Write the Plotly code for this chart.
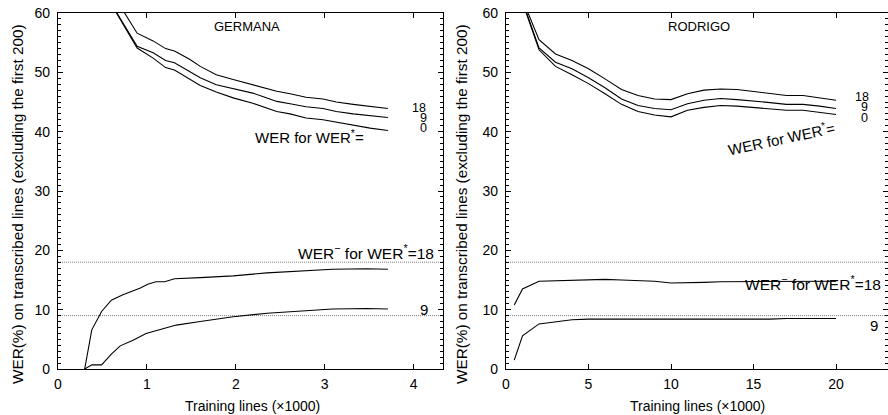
import plotly.graph_objects as go

# ---------------- data ----------------
# GERMANA (x in thousands of training lines)
germ_up_x = [0.5, 0.89, 1.07, 1.21, 1.31, 1.48, 1.6, 1.78, 1.97, 2.19, 2.31, 2.46, 2.61, 2.79, 2.98, 3.13, 3.32, 3.51, 3.71]
germ_wer18 = [66, 56.6, 55.3, 54.0, 53.6, 52.2, 51.0, 49.6, 48.8, 47.9, 47.4, 46.8, 46.4, 45.8, 45.5, 45.0, 44.6, 44.2, 43.9]
germ_wer9 = [64, 54.4, 53.3, 52.0, 51.6, 50.2, 49.1, 47.9, 47.2, 46.5, 45.9, 45.1, 44.7, 44.2, 43.9, 43.4, 43.0, 42.7, 42.4]
germ_wer0 = [64, 54.1, 52.4, 50.8, 50.4, 48.9, 47.8, 46.7, 45.7, 44.8, 44.2, 43.4, 43.0, 42.3, 42.0, 41.6, 41.1, 40.6, 40.2]

germ_lo18_x = [0.3, 0.38, 0.49, 0.6, 0.73, 0.85, 0.92, 1.01, 1.1, 1.2, 1.31, 1.6, 1.97, 2.35, 2.72, 3.09, 3.47, 3.71]
germ_lo18 = [0, 6.6, 9.7, 11.6, 12.5, 13.2, 13.6, 14.3, 14.7, 14.7, 15.2, 15.4, 15.7, 16.2, 16.5, 16.8, 16.9, 16.8]
germ_lo9_x = [0.3, 0.38, 0.49, 0.6, 0.7, 0.85, 0.99, 1.15, 1.33, 1.6, 1.97, 2.35, 2.72, 3.09, 3.47, 3.71]
germ_lo9 = [0, 0.7, 0.7, 2.5, 3.9, 4.9, 6.0, 6.7, 7.4, 8.0, 8.8, 9.4, 9.8, 10.1, 10.2, 10.1]

# RODRIGO
rod_x = [0.5, 1, 2, 3, 4, 5, 6, 7, 8, 9, 10, 11, 12, 13, 14, 15, 16, 17, 18, 19, 20]
rod_wer18 = [70, 62.3, 55.5, 53.1, 52.0, 50.6, 48.9, 47.1, 46.1, 45.5, 45.4, 46.4, 47.0, 47.2, 47.1, 46.8, 46.5, 46.1, 46.1, 45.7, 45.3]
rod_wer9 = [69, 62.0, 54.1, 51.7, 50.6, 49.1, 47.4, 45.5, 44.4, 43.9, 43.7, 44.7, 45.3, 45.6, 45.4, 45.2, 44.9, 44.6, 44.6, 44.3, 43.9]
rod_wer0 = [68.5, 61.8, 53.8, 51.0, 49.6, 48.1, 46.4, 44.6, 43.4, 42.8, 42.5, 43.6, 44.1, 44.4, 44.3, 44.1, 43.9, 43.6, 43.6, 43.3, 42.9]
rod_lo18 = [10.8, 13.5, 14.8, 14.9, 15.0, 15.1, 15.1, 15.0, 14.9, 14.8, 14.5, 14.5, 14.6, 14.7, 14.7, 14.7, 14.7, 14.8, 14.8, 14.8, 14.8]
rod_lo9 = [1.5, 5.6, 7.6, 8.0, 8.3, 8.4, 8.4, 8.4, 8.4, 8.4, 8.3, 8.3, 8.3, 8.4, 8.4, 8.4, 8.4, 8.5, 8.5, 8.5, 8.5]

ref_levels = [18, 9]
panel_names = ["GERMANA", "RODRIGO"]
x_ticks_left = [0, 1, 2, 3, 4]
x_ticks_right = [0, 5, 10, 15, 20]
y_ticks = [0, 10, 20, 30, 40, 50, 60]

# ---------------- figure ----------------
FONT = "Liberation Sans, Arial, Helvetica, sans-serif"
W, H = 888, 415
line = dict(color="black", width=1.1)

fig = go.Figure()
for xs, ys in [(germ_up_x, germ_wer18), (germ_up_x, germ_wer9), (germ_up_x, germ_wer0),
               (germ_lo18_x, germ_lo18), (germ_lo9_x, germ_lo9)]:
    fig.add_trace(go.Scatter(x=xs, y=ys, mode="lines", line=line, xaxis="x", yaxis="y",
                             showlegend=False, hoverinfo="skip"))
for ys in [rod_wer18, rod_wer9, rod_wer0, rod_lo18, rod_lo9]:
    fig.add_trace(go.Scatter(x=rod_x, y=ys, mode="lines", line=line, xaxis="x2", yaxis="y2",
                             showlegend=False, hoverinfo="skip"))

ydom = [46 / H, 402 / H]
common_ax = dict(showline=True, linecolor="black", linewidth=1.2, mirror="ticks",
                 ticks="inside", ticklen=5, tickcolor="black", tickwidth=1,
                 showgrid=False, zeroline=False, automargin=False,
                 tickfont=dict(family=FONT, size=14, color="black"))

yax = dict(common_ax, range=[0, 60], tickvals=y_ticks, domain=ydom,
           minor=dict(ticks="inside", ticklen=3, tickcolor="black", dtick=1, tick0=0, showgrid=False),
           ticklabelstandoff=4)

fig.update_layout(
    width=W, height=H, autosize=False,
    margin=dict(l=0, r=0, t=0, b=0, pad=0, autoexpand=False),
    paper_bgcolor="white", plot_bgcolor="white",
    font=dict(family=FONT, color="black"),
    xaxis=dict(common_ax, range=[0, 4.33], tickvals=x_ticks_left, domain=[58 / W, 443 / W],
               anchor="y", ticklabelstandoff=2),
    yaxis=dict(yax, anchor="x"),
    xaxis2=dict(common_ax, range=[0, 23.15], tickvals=x_ticks_right, domain=[506 / W, 1.0],
                anchor="y2", ticklabelstandoff=2),
    yaxis2=dict(yax, anchor="x2"),
)

# dotted reference levels
for xr, yr in [("x", "y"), ("x2", "y2")]:
    for lv in ref_levels:
        fig.add_shape(type="line", xref=f"{xr} domain", yref=yr, x0=0, x1=1, y0=lv, y1=lv,
                      line=dict(color="#808080", width=1, dash="1px,1px"), layer="below")

def ann(text, x, y, xref, yref, size=14, xanchor="center", angle=0):
    fig.add_annotation(text=text, x=x, y=y, xref=xref, yref=yref, showarrow=False,
                       xanchor=xanchor, yanchor="middle", textangle=angle,
                       font=dict(family=FONT, size=size, color="black"))

# left panel texts
ann(panel_names[0], 2.13, 57.7, "x", "y", size=13)
ann("18", 4.06, 44.0, "x", "y", size=12.5)
ann("9", 4.11, 42.3, "x", "y", size=12.5)
ann("0", 4.11, 40.6, "x", "y", size=12.5)
ann("WER for WER<sup>*</sup>=", 2.83, 39.2, "x", "y", size=15)
ann("WER<sup>−</sup> for WER<sup>*</sup>=18", 4.25, 19.8, "x", "y", size=15.5, xanchor="right")
ann("9", 4.12, 10.0, "x", "y", size=15)

# right panel texts
ann(panel_names[1], 11.7, 57.7, "x2", "y2", size=13)
ann("18", 21.6, 45.9, "x2", "y2", size=12.5)
ann("9", 21.75, 44.1, "x2", "y2", size=12.5)
ann("0", 21.75, 42.3, "x2", "y2", size=12.5)
ann("WER for WER<sup>*</sup>=", 16.7, 39.0, "x2", "y2", size=15, angle=-12)
ann("WER<sup>−</sup> for WER<sup>*</sup>=18", 22.85, 14.5, "x2", "y2", size=15.5, xanchor="right")
ann("9", 22.3, 7.4, "x2", "y2", size=15)

# axis titles
ytitle = "WER(%) on transcribed lines (excluding the first 200)"
ann(ytitle, 18 / W, (H - 204) / H, "paper", "paper", size=15.3, angle=-90)
ann(ytitle, 462 / W, (H - 204) / H, "paper", "paper", size=15.3, angle=-90)
xtitle = "Training lines (×1000)"
ann(xtitle, 253 / W, (H - 406) / H, "paper", "paper", size=14)
ann(xtitle, 697 / W, (H - 406) / H, "paper", "paper", size=14)

fig.write_html("out.html", config={"displayModeBar": False},
               post_script="document.body.style.margin='0px';document.body.style.overflow='hidden';")
